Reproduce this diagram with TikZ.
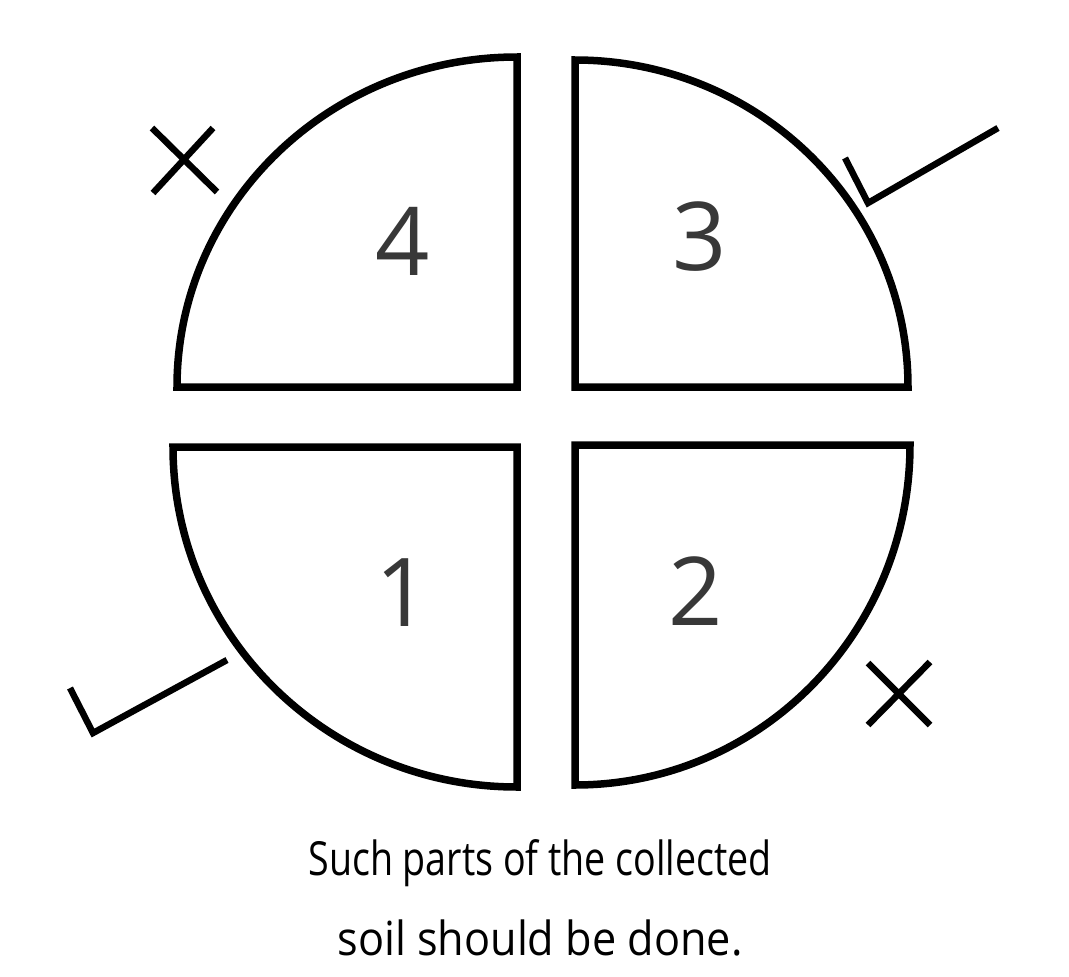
\documentclass[tikz,border=0pt]{standalone}
\usepackage{fontspec}
\usepackage{graphicx}
\setmainfont{Open Sans}
\newfontfamily\capfont[FakeStretch=0.8]{Open Sans}
\newfontfamily\capwide[FakeStretch=0.92]{Open Sans}
\begin{document}
\begin{tikzpicture}[x=1pt,y=-1pt,
 part/.style={line width=7.5pt,draw=black,line join=miter},
 sign/.style={line width=6.5pt,draw=black},
 num/.style={font=\fontsize{95}{100}\selectfont,text=black!78,inner sep=0pt},
 caption/.style={font=\fontsize{47}{80}\selectfont,align=center,inner sep=0pt}]
\useasboundingbox (0,0) rectangle (1069,977);

% the four parts of the soil heap
\draw[part] (177,387) arc[start angle=180,end angle=90,x radius=340pt,y radius=330pt] -- (517,387) -- cycle;
\draw[part] (575,60) arc[start angle=90,end angle=0,x radius=333pt,y radius=327pt] -- (575,387) -- cycle;
\draw[part] (173,447) arc[start angle=180,end angle=270,x radius=344pt,y radius=340pt] -- (517,447) -- cycle;
\draw[part] (910,445) arc[start angle=0,end angle=-90,x radius=335pt,y radius=340pt] -- (575,445) -- cycle;

\node[num] (four) at (403,241) {4};
\node[num] (three) at (700,237) {3};
\node[num] (one) at (403,593) {1};
\node[num] (two) at (696,591) {2};

% crosses and ticks
\draw[sign] (152,128) -- (217,192) (213,128) -- (153,193);
\draw[sign] (868,663) -- (930,725) (930,662) -- (868,725);
\draw[sign] (845,158) -- (868,203) -- (998,128);
\draw[sign] (70,688) -- (93,733) -- (227,660);

\node[caption] (note) at (540,898) {{\capfont Such parts of the collected}\\{\capwide soil should be done.}};
\end{tikzpicture}
\end{document}
